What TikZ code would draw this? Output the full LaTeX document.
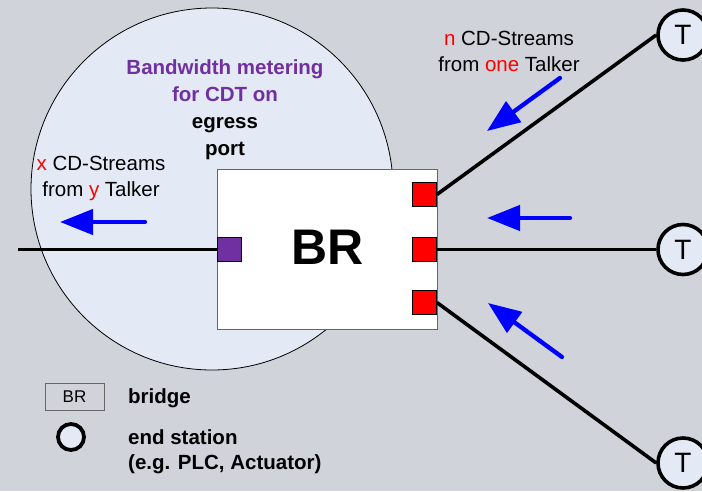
\documentclass[tikz,border=0pt]{standalone}
\usepackage{fontspec}
\setmainfont{Liberation Sans}
\usetikzlibrary{arrows.meta}
\definecolor{bgc}{RGB}{208,211,218}
\definecolor{discc}{RGB}{228,234,245}
\definecolor{purp}{RGB}{112,48,160}
\begin{document}
\begin{tikzpicture}[x=1pt,y=-1pt,
 txt/.style={font=\fontsize{20.5}{24}\selectfont, inner sep=0pt, anchor=base},
 btxt/.style={txt, font=\fontsize{20.5}{24}\selectfont\bfseries},
 portsq/.style={draw=black, line width=0.8pt, minimum size=24pt, inner sep=0pt},
 link/.style={line width=3.6pt},
 flow/.style={blue, line width=4.3pt, line cap=round, -{Triangle[length=33pt,width=25pt]}},
 tstation/.style={circle, draw, line width=3.6pt, fill=discc, minimum size=50pt, inner sep=0pt, font=\fontsize{28}{30}\selectfont}]
\fill[bgc] (0,0) rectangle (702,491);
\useasboundingbox (0,0) rectangle (702,491);
% metering disc
\node[circle, draw, line width=0.8pt, fill=discc, minimum size=362pt, inner sep=0pt] (disc) at (212,189) {};
% bridge
\node[draw=black!60, fill=white, line width=0.8pt, minimum width=220pt, minimum height=160pt, inner sep=0pt] (br) at (327,249) {};
\node[font=\fontsize{50}{50}\selectfont\bfseries, anchor=base, inner sep=0pt] (brl) at (328,264) {BR};
% links
\coordinate (lend) at (18,249.5);
\node[portsq, fill=purp] (pp) at (229,249.5) {};
\node[portsq, fill=red] (r1) at (424.5,194.5) {};
\node[portsq, fill=red] (r2) at (424.5,249.5) {};
\node[portsq, fill=red] (r3) at (424.5,302.5) {};
\node[tstation] (t1) at (683,35) {T};
\node[tstation] (t2) at (683,249.5) {T};
\node[tstation] (t3) at (683,463) {T};
\draw[link] (lend) -- (pp.west);
\draw[link] (r1.east) -- (t1.west);
\draw[link] (r2.east) -- (t2.west);
\draw[link] (r3.east) -- (t3.west);
% flow arrows
\coordinate (a1s) at (145,222); \coordinate (a1e) at (60,222);
\coordinate (a2s) at (560,78);  \coordinate (a2e) at (487,131);
\coordinate (a3s) at (570,218); \coordinate (a3e) at (487,218);
\coordinate (a4s) at (562,357); \coordinate (a4e) at (488,303);
\draw[flow] (a1s) -- (a1e);
\draw[flow] (a2s) -- (a2e);
\draw[flow] (a3s) -- (a3e);
\draw[flow] (a4s) -- (a4e);
% texts
\node[btxt, text=purp] (m1) at (225,74) {Bandwidth metering};
\node[btxt, text=purp] (m2) at (225,101) {for CDT on};
\node[btxt] (m3) at (225,128) {egress};
\node[btxt] (m4) at (225,155) {port};
\node[txt] (xs) at (101,170) {\textcolor{red}{x} CD-Streams};
\node[txt] (xt) at (101,196) {from \textcolor{red}{y} Talker};
\node[txt] (ns) at (509,45) {\textcolor{red}{n} CD-Streams};
\node[txt] (nt) at (509,71) {from \textcolor{red}{one} Talker};
% legend
\node[draw=black!60, line width=0.8pt, minimum width=59pt, minimum height=27pt, inner sep=0pt, font=\fontsize{17}{17}\selectfont] (lbr) at (74.5,396.5) {BR};
\node[btxt, anchor=base west] (lbt) at (128,403) {bridge};
\node[circle, draw, line width=3.8pt, fill=discc, minimum size=26pt, inner sep=0pt] (les) at (71,437) {};
\node[btxt, anchor=base west] (le1) at (128,444) {end station};
\node[btxt, anchor=base west] (le2) at (128,469) {(e.g. PLC, Actuator)};
\end{tikzpicture}
\end{document}
